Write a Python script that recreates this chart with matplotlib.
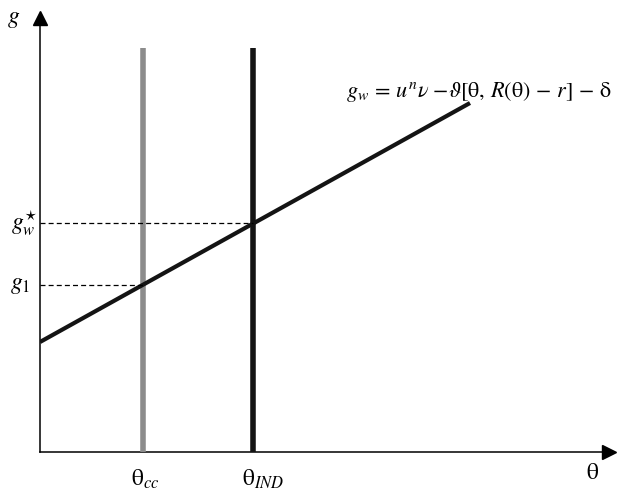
import matplotlib
matplotlib.use("Agg")
import matplotlib.pyplot as plt

plt.rcParams['font.family'] = ['Liberation Serif', 'DejaVu Serif']
plt.rcParams['mathtext.fontset'] = 'stix'

# wage-growth line g_w(theta)
theta_line = [0.0, 4.3]
g_line = [1.10, 3.49]

# the two regimes
theta_cc = 1.03
theta_ind = 2.13
v_top = 4.04

# growth levels at the crossings
g_1 = 1.67
g_w_star = 2.29

x_max = 5.75
y_max = 4.4

fig = plt.figure(figsize=(6.29, 4.94), dpi=100)
ax = fig.add_axes([40 / 629, 42 / 494, 575 / 629, 440 / 494])
ax.set_xlim(0, x_max)
ax.set_ylim(0, y_max)
ax.axis('off')

# axes with arrow heads
ax.plot([0, x_max - 0.1], [0, 0], color='black', lw=1.1, clip_on=False)
ax.plot([0, 0], [0, y_max - 0.1], color='black', lw=1.1, clip_on=False)
ax.plot([x_max - 0.06], [0], marker='>', color='black', ms=10, clip_on=False)
ax.plot([0], [y_max - 0.06], marker='^', color='black', ms=10, clip_on=False)

# vertical regime lines
ax.plot([theta_cc, theta_cc], [0, v_top], color='#8c8c8c', lw=4, solid_capstyle='butt')
ax.plot([theta_ind, theta_ind], [0, v_top], color='#141414', lw=4, solid_capstyle='butt')

# g_w line
ax.plot(theta_line, g_line, color='#141414', lw=3, solid_capstyle='butt')

# dashed guides
ax.plot([0, theta_cc], [g_1, g_1], color='black', lw=0.9, ls=(0, (4, 2.5)))
ax.plot([0, theta_ind], [g_w_star, g_w_star], color='black', lw=0.9, ls=(0, (4, 2.5)))

# labels
ax.text(-0.26, y_max - 0.08, r'$g$', fontsize=17, ha='center', va='center', clip_on=False)
ax.text(-0.16, g_w_star, r'$g_w^{\star}$', fontsize=17, ha='center', va='center', clip_on=False)
ax.text(-0.20, g_1, r'$g_1$', fontsize=17, ha='center', va='center', clip_on=False)
ax.text(theta_cc + 0.02, -0.27, r'$\mathrm{\theta}_{cc}$', fontsize=17, ha='center', va='center', clip_on=False)
ax.text(theta_ind + 0.10, -0.27, r'$\mathrm{\theta}_{IND}$', fontsize=17, ha='center', va='center', clip_on=False)
ax.text(5.53, -0.21, r'$\mathrm{\theta}$', fontsize=17, ha='center', va='center', clip_on=False)
ax.text(3.06, 3.60,
        r'$g_w\, =\, u^n\nu\ {-}\vartheta[\mathrm{\theta},\, R(\mathrm{\theta})\, -\, r]\, -\, \mathrm{\delta}$',
        fontsize=16, ha='left', va='center', clip_on=False)

fig.savefig('out.png', dpi=100)
